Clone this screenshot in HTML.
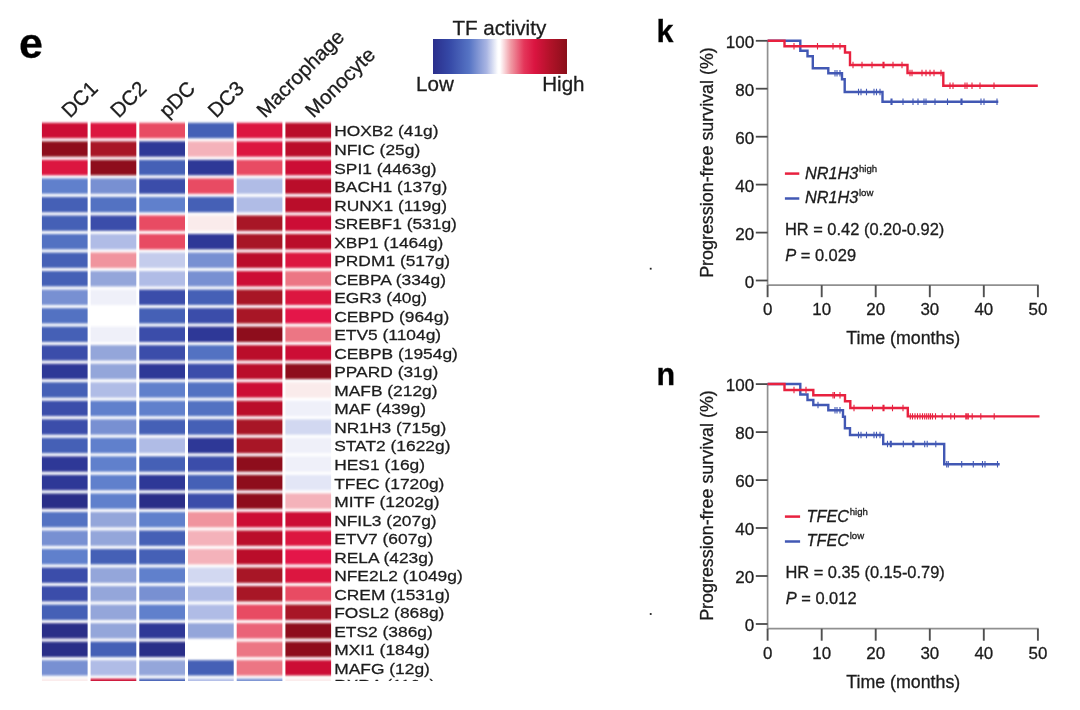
<!DOCTYPE html>
<html lang="en"><head><meta charset="utf-8"><title>Figure panels e, k, n</title>
<style>
html,body{margin:0;padding:0;background:#fff;}
body{width:1080px;height:710px;overflow:hidden;font-family:"Liberation Sans",Arial,Helvetica,sans-serif;}
svg{display:block;filter:blur(0.55px);}
text{font-family:"Liberation Sans",Arial,Helvetica,sans-serif;fill:#1c1c1c;stroke:#1c1c1c;stroke-width:0.3px;}
.b{font-weight:bold;fill:#000;}
.i{font-style:italic;}
</style></head><body>
<svg width="1080" height="710" viewBox="0 0 1080 710">
<defs>
<linearGradient id="lg" x1="0" y1="0" x2="1" y2="0">
<stop offset="0" stop-color="#2B2F8C"/><stop offset="0.12" stop-color="#3548A6"/><stop offset="0.27" stop-color="#5674C4"/>
<stop offset="0.40" stop-color="#A9B5E3"/><stop offset="0.485" stop-color="#FFFFFF"/><stop offset="0.50" stop-color="#FFFFFF"/>
<stop offset="0.58" stop-color="#F09AA4"/><stop offset="0.68" stop-color="#E4365A"/><stop offset="0.76" stop-color="#DA1440"/>
<stop offset="0.88" stop-color="#B01228"/><stop offset="1" stop-color="#8A0F1A"/>
</linearGradient>
<filter id="hb" x="-5%" y="-5%" width="110%" height="110%"><feGaussianBlur stdDeviation="0.35 0.85"/></filter>
<clipPath id="hc"><rect x="0" y="0" width="640" height="681"/></clipPath>
</defs>
<rect width="1080" height="710" fill="#fff"/>

<text class="b" x="19.1" y="58.0" font-size="43">e</text>
<text x="499.3" y="35.2" font-size="20.6" text-anchor="middle">TF activity</text>
<rect x="433" y="39" width="134" height="35" fill="url(#lg)"/>
<text x="416.0" y="90.6" font-size="20.6">Low</text>
<text x="542.2" y="90.6" font-size="20.6">High</text>
<text transform="translate(70.0,118.7) rotate(-45)" font-size="20.5">DC1</text>
<text transform="translate(118.7,118.7) rotate(-45)" font-size="20.5">DC2</text>
<text transform="translate(167.5,118.7) rotate(-45)" font-size="20.5">pDC</text>
<text transform="translate(216.2,118.7) rotate(-45)" font-size="20.5">DC3</text>
<text transform="translate(264.9,118.7) rotate(-45)" font-size="20.5">Macrophage</text>
<text transform="translate(313.6,118.7) rotate(-45)" font-size="20.5">Monocyte</text>
<g clip-path="url(#hc)"><g filter="url(#hb)">
<rect x="41.90" y="122.80" width="45.7" height="15.4" fill="#CC1034"/>
<rect x="90.60" y="122.80" width="45.7" height="15.4" fill="#DC1440"/>
<rect x="139.30" y="122.80" width="45.7" height="15.4" fill="#E84C64"/>
<rect x="188.00" y="122.80" width="45.7" height="15.4" fill="#4560B6"/>
<rect x="236.70" y="122.80" width="45.7" height="15.4" fill="#DC1440"/>
<rect x="285.40" y="122.80" width="45.7" height="15.4" fill="#BA102B"/>
<rect x="41.90" y="141.33" width="45.7" height="15.4" fill="#8E0F1C"/>
<rect x="90.60" y="141.33" width="45.7" height="15.4" fill="#A81226"/>
<rect x="139.30" y="141.33" width="45.7" height="15.4" fill="#2E3797"/>
<rect x="188.00" y="141.33" width="45.7" height="15.4" fill="#F4B2BA"/>
<rect x="236.70" y="141.33" width="45.7" height="15.4" fill="#DC1440"/>
<rect x="285.40" y="141.33" width="45.7" height="15.4" fill="#BA102B"/>
<rect x="41.90" y="159.86" width="45.7" height="15.4" fill="#DC1440"/>
<rect x="90.60" y="159.86" width="45.7" height="15.4" fill="#8E0F1C"/>
<rect x="139.30" y="159.86" width="45.7" height="15.4" fill="#4560B6"/>
<rect x="188.00" y="159.86" width="45.7" height="15.4" fill="#2E3797"/>
<rect x="236.70" y="159.86" width="45.7" height="15.4" fill="#E84C64"/>
<rect x="285.40" y="159.86" width="45.7" height="15.4" fill="#CC1034"/>
<rect x="41.90" y="178.39" width="45.7" height="15.4" fill="#6080CC"/>
<rect x="90.60" y="178.39" width="45.7" height="15.4" fill="#7890D2"/>
<rect x="139.30" y="178.39" width="45.7" height="15.4" fill="#3A4EAA"/>
<rect x="188.00" y="178.39" width="45.7" height="15.4" fill="#E84C64"/>
<rect x="236.70" y="178.39" width="45.7" height="15.4" fill="#B0BCE6"/>
<rect x="285.40" y="178.39" width="45.7" height="15.4" fill="#BA102B"/>
<rect x="41.90" y="196.92" width="45.7" height="15.4" fill="#4560B6"/>
<rect x="90.60" y="196.92" width="45.7" height="15.4" fill="#5272C2"/>
<rect x="139.30" y="196.92" width="45.7" height="15.4" fill="#6080CC"/>
<rect x="188.00" y="196.92" width="45.7" height="15.4" fill="#4560B6"/>
<rect x="236.70" y="196.92" width="45.7" height="15.4" fill="#B0BCE6"/>
<rect x="285.40" y="196.92" width="45.7" height="15.4" fill="#BA102B"/>
<rect x="41.90" y="215.45" width="45.7" height="15.4" fill="#4560B6"/>
<rect x="90.60" y="215.45" width="45.7" height="15.4" fill="#3A4EAA"/>
<rect x="139.30" y="215.45" width="45.7" height="15.4" fill="#E84C64"/>
<rect x="188.00" y="215.45" width="45.7" height="15.4" fill="#FAEBEB"/>
<rect x="236.70" y="215.45" width="45.7" height="15.4" fill="#A81226"/>
<rect x="285.40" y="215.45" width="45.7" height="15.4" fill="#CC1034"/>
<rect x="41.90" y="233.98" width="45.7" height="15.4" fill="#5272C2"/>
<rect x="90.60" y="233.98" width="45.7" height="15.4" fill="#B0BCE6"/>
<rect x="139.30" y="233.98" width="45.7" height="15.4" fill="#E84C64"/>
<rect x="188.00" y="233.98" width="45.7" height="15.4" fill="#2E3797"/>
<rect x="236.70" y="233.98" width="45.7" height="15.4" fill="#A81226"/>
<rect x="285.40" y="233.98" width="45.7" height="15.4" fill="#BA102B"/>
<rect x="41.90" y="252.51" width="45.7" height="15.4" fill="#4560B6"/>
<rect x="90.60" y="252.51" width="45.7" height="15.4" fill="#F0949E"/>
<rect x="139.30" y="252.51" width="45.7" height="15.4" fill="#C4CCEC"/>
<rect x="188.00" y="252.51" width="45.7" height="15.4" fill="#7890D2"/>
<rect x="236.70" y="252.51" width="45.7" height="15.4" fill="#BA102B"/>
<rect x="285.40" y="252.51" width="45.7" height="15.4" fill="#DC1440"/>
<rect x="41.90" y="271.04" width="45.7" height="15.4" fill="#4560B6"/>
<rect x="90.60" y="271.04" width="45.7" height="15.4" fill="#94A6DA"/>
<rect x="139.30" y="271.04" width="45.7" height="15.4" fill="#B0BCE6"/>
<rect x="188.00" y="271.04" width="45.7" height="15.4" fill="#7890D2"/>
<rect x="236.70" y="271.04" width="45.7" height="15.4" fill="#CC1034"/>
<rect x="285.40" y="271.04" width="45.7" height="15.4" fill="#EC7684"/>
<rect x="41.90" y="289.57" width="45.7" height="15.4" fill="#7890D2"/>
<rect x="90.60" y="289.57" width="45.7" height="15.4" fill="#EFF0F9"/>
<rect x="139.30" y="289.57" width="45.7" height="15.4" fill="#3A4EAA"/>
<rect x="188.00" y="289.57" width="45.7" height="15.4" fill="#4560B6"/>
<rect x="236.70" y="289.57" width="45.7" height="15.4" fill="#A81226"/>
<rect x="285.40" y="289.57" width="45.7" height="15.4" fill="#DC1440"/>
<rect x="41.90" y="308.10" width="45.7" height="15.4" fill="#5272C2"/>
<rect x="90.60" y="308.10" width="45.7" height="15.4" fill="#FFFFFF"/>
<rect x="139.30" y="308.10" width="45.7" height="15.4" fill="#4560B6"/>
<rect x="188.00" y="308.10" width="45.7" height="15.4" fill="#3A4EAA"/>
<rect x="236.70" y="308.10" width="45.7" height="15.4" fill="#A81226"/>
<rect x="285.40" y="308.10" width="45.7" height="15.4" fill="#E41848"/>
<rect x="41.90" y="326.63" width="45.7" height="15.4" fill="#4560B6"/>
<rect x="90.60" y="326.63" width="45.7" height="15.4" fill="#EFF0F9"/>
<rect x="139.30" y="326.63" width="45.7" height="15.4" fill="#3A4EAA"/>
<rect x="188.00" y="326.63" width="45.7" height="15.4" fill="#2E3797"/>
<rect x="236.70" y="326.63" width="45.7" height="15.4" fill="#8E0F1C"/>
<rect x="285.40" y="326.63" width="45.7" height="15.4" fill="#EC7684"/>
<rect x="41.90" y="345.16" width="45.7" height="15.4" fill="#3A4EAA"/>
<rect x="90.60" y="345.16" width="45.7" height="15.4" fill="#94A6DA"/>
<rect x="139.30" y="345.16" width="45.7" height="15.4" fill="#3A4EAA"/>
<rect x="188.00" y="345.16" width="45.7" height="15.4" fill="#5272C2"/>
<rect x="236.70" y="345.16" width="45.7" height="15.4" fill="#BA102B"/>
<rect x="285.40" y="345.16" width="45.7" height="15.4" fill="#CC1034"/>
<rect x="41.90" y="363.69" width="45.7" height="15.4" fill="#2E3797"/>
<rect x="90.60" y="363.69" width="45.7" height="15.4" fill="#94A6DA"/>
<rect x="139.30" y="363.69" width="45.7" height="15.4" fill="#2E3797"/>
<rect x="188.00" y="363.69" width="45.7" height="15.4" fill="#3A4EAA"/>
<rect x="236.70" y="363.69" width="45.7" height="15.4" fill="#BA102B"/>
<rect x="285.40" y="363.69" width="45.7" height="15.4" fill="#8E0F1C"/>
<rect x="41.90" y="382.22" width="45.7" height="15.4" fill="#4560B6"/>
<rect x="90.60" y="382.22" width="45.7" height="15.4" fill="#B0BCE6"/>
<rect x="139.30" y="382.22" width="45.7" height="15.4" fill="#6080CC"/>
<rect x="188.00" y="382.22" width="45.7" height="15.4" fill="#5272C2"/>
<rect x="236.70" y="382.22" width="45.7" height="15.4" fill="#CC1034"/>
<rect x="285.40" y="382.22" width="45.7" height="15.4" fill="#FAEBEB"/>
<rect x="41.90" y="400.75" width="45.7" height="15.4" fill="#3A4EAA"/>
<rect x="90.60" y="400.75" width="45.7" height="15.4" fill="#6080CC"/>
<rect x="139.30" y="400.75" width="45.7" height="15.4" fill="#6080CC"/>
<rect x="188.00" y="400.75" width="45.7" height="15.4" fill="#5272C2"/>
<rect x="236.70" y="400.75" width="45.7" height="15.4" fill="#BA102B"/>
<rect x="285.40" y="400.75" width="45.7" height="15.4" fill="#EFF0F9"/>
<rect x="41.90" y="419.28" width="45.7" height="15.4" fill="#3A4EAA"/>
<rect x="90.60" y="419.28" width="45.7" height="15.4" fill="#7890D2"/>
<rect x="139.30" y="419.28" width="45.7" height="15.4" fill="#4560B6"/>
<rect x="188.00" y="419.28" width="45.7" height="15.4" fill="#4560B6"/>
<rect x="236.70" y="419.28" width="45.7" height="15.4" fill="#A81226"/>
<rect x="285.40" y="419.28" width="45.7" height="15.4" fill="#D2D8F1"/>
<rect x="41.90" y="437.81" width="45.7" height="15.4" fill="#4560B6"/>
<rect x="90.60" y="437.81" width="45.7" height="15.4" fill="#6080CC"/>
<rect x="139.30" y="437.81" width="45.7" height="15.4" fill="#B0BCE6"/>
<rect x="188.00" y="437.81" width="45.7" height="15.4" fill="#2E3797"/>
<rect x="236.70" y="437.81" width="45.7" height="15.4" fill="#A81226"/>
<rect x="285.40" y="437.81" width="45.7" height="15.4" fill="#EFF0F9"/>
<rect x="41.90" y="456.34" width="45.7" height="15.4" fill="#2E3797"/>
<rect x="90.60" y="456.34" width="45.7" height="15.4" fill="#6080CC"/>
<rect x="139.30" y="456.34" width="45.7" height="15.4" fill="#4560B6"/>
<rect x="188.00" y="456.34" width="45.7" height="15.4" fill="#3A4EAA"/>
<rect x="236.70" y="456.34" width="45.7" height="15.4" fill="#8E0F1C"/>
<rect x="285.40" y="456.34" width="45.7" height="15.4" fill="#EFF0F9"/>
<rect x="41.90" y="474.87" width="45.7" height="15.4" fill="#2E3797"/>
<rect x="90.60" y="474.87" width="45.7" height="15.4" fill="#6080CC"/>
<rect x="139.30" y="474.87" width="45.7" height="15.4" fill="#2E3797"/>
<rect x="188.00" y="474.87" width="45.7" height="15.4" fill="#4560B6"/>
<rect x="236.70" y="474.87" width="45.7" height="15.4" fill="#8E0F1C"/>
<rect x="285.40" y="474.87" width="45.7" height="15.4" fill="#E3E6F6"/>
<rect x="41.90" y="493.40" width="45.7" height="15.4" fill="#2A2D88"/>
<rect x="90.60" y="493.40" width="45.7" height="15.4" fill="#6080CC"/>
<rect x="139.30" y="493.40" width="45.7" height="15.4" fill="#2A2D88"/>
<rect x="188.00" y="493.40" width="45.7" height="15.4" fill="#3A4EAA"/>
<rect x="236.70" y="493.40" width="45.7" height="15.4" fill="#8E0F1C"/>
<rect x="285.40" y="493.40" width="45.7" height="15.4" fill="#F4B2BA"/>
<rect x="41.90" y="511.93" width="45.7" height="15.4" fill="#5272C2"/>
<rect x="90.60" y="511.93" width="45.7" height="15.4" fill="#94A6DA"/>
<rect x="139.30" y="511.93" width="45.7" height="15.4" fill="#6080CC"/>
<rect x="188.00" y="511.93" width="45.7" height="15.4" fill="#F0949E"/>
<rect x="236.70" y="511.93" width="45.7" height="15.4" fill="#CC1034"/>
<rect x="285.40" y="511.93" width="45.7" height="15.4" fill="#CC1034"/>
<rect x="41.90" y="530.46" width="45.7" height="15.4" fill="#7890D2"/>
<rect x="90.60" y="530.46" width="45.7" height="15.4" fill="#94A6DA"/>
<rect x="139.30" y="530.46" width="45.7" height="15.4" fill="#4560B6"/>
<rect x="188.00" y="530.46" width="45.7" height="15.4" fill="#F4B2BA"/>
<rect x="236.70" y="530.46" width="45.7" height="15.4" fill="#BA102B"/>
<rect x="285.40" y="530.46" width="45.7" height="15.4" fill="#DC1440"/>
<rect x="41.90" y="548.99" width="45.7" height="15.4" fill="#6080CC"/>
<rect x="90.60" y="548.99" width="45.7" height="15.4" fill="#4560B6"/>
<rect x="139.30" y="548.99" width="45.7" height="15.4" fill="#4560B6"/>
<rect x="188.00" y="548.99" width="45.7" height="15.4" fill="#F4B2BA"/>
<rect x="236.70" y="548.99" width="45.7" height="15.4" fill="#BA102B"/>
<rect x="285.40" y="548.99" width="45.7" height="15.4" fill="#E41848"/>
<rect x="41.90" y="567.52" width="45.7" height="15.4" fill="#3A4EAA"/>
<rect x="90.60" y="567.52" width="45.7" height="15.4" fill="#94A6DA"/>
<rect x="139.30" y="567.52" width="45.7" height="15.4" fill="#6080CC"/>
<rect x="188.00" y="567.52" width="45.7" height="15.4" fill="#D2D8F1"/>
<rect x="236.70" y="567.52" width="45.7" height="15.4" fill="#A81226"/>
<rect x="285.40" y="567.52" width="45.7" height="15.4" fill="#DC1440"/>
<rect x="41.90" y="586.05" width="45.7" height="15.4" fill="#3A4EAA"/>
<rect x="90.60" y="586.05" width="45.7" height="15.4" fill="#94A6DA"/>
<rect x="139.30" y="586.05" width="45.7" height="15.4" fill="#7890D2"/>
<rect x="188.00" y="586.05" width="45.7" height="15.4" fill="#B0BCE6"/>
<rect x="236.70" y="586.05" width="45.7" height="15.4" fill="#A81226"/>
<rect x="285.40" y="586.05" width="45.7" height="15.4" fill="#E84C64"/>
<rect x="41.90" y="604.58" width="45.7" height="15.4" fill="#4560B6"/>
<rect x="90.60" y="604.58" width="45.7" height="15.4" fill="#94A6DA"/>
<rect x="139.30" y="604.58" width="45.7" height="15.4" fill="#6080CC"/>
<rect x="188.00" y="604.58" width="45.7" height="15.4" fill="#B0BCE6"/>
<rect x="236.70" y="604.58" width="45.7" height="15.4" fill="#E84C64"/>
<rect x="285.40" y="604.58" width="45.7" height="15.4" fill="#A81226"/>
<rect x="41.90" y="623.11" width="45.7" height="15.4" fill="#2A2D88"/>
<rect x="90.60" y="623.11" width="45.7" height="15.4" fill="#94A6DA"/>
<rect x="139.30" y="623.11" width="45.7" height="15.4" fill="#2E3797"/>
<rect x="188.00" y="623.11" width="45.7" height="15.4" fill="#94A6DA"/>
<rect x="236.70" y="623.11" width="45.7" height="15.4" fill="#EA6478"/>
<rect x="285.40" y="623.11" width="45.7" height="15.4" fill="#8E0F1C"/>
<rect x="41.90" y="641.64" width="45.7" height="15.4" fill="#2A2D88"/>
<rect x="90.60" y="641.64" width="45.7" height="15.4" fill="#4560B6"/>
<rect x="139.30" y="641.64" width="45.7" height="15.4" fill="#2A2D88"/>
<rect x="188.00" y="641.64" width="45.7" height="15.4" fill="#FFFFFF"/>
<rect x="236.70" y="641.64" width="45.7" height="15.4" fill="#EC7684"/>
<rect x="285.40" y="641.64" width="45.7" height="15.4" fill="#8E0F1C"/>
<rect x="41.90" y="660.17" width="45.7" height="15.4" fill="#7890D2"/>
<rect x="90.60" y="660.17" width="45.7" height="15.4" fill="#B0BCE6"/>
<rect x="139.30" y="660.17" width="45.7" height="15.4" fill="#94A6DA"/>
<rect x="188.00" y="660.17" width="45.7" height="15.4" fill="#4560B6"/>
<rect x="236.70" y="660.17" width="45.7" height="15.4" fill="#EC7684"/>
<rect x="285.40" y="660.17" width="45.7" height="15.4" fill="#CC1034"/>
<rect x="41.90" y="678.70" width="45.7" height="15.4" fill="#FAEBEB"/>
<rect x="90.60" y="678.70" width="45.7" height="15.4" fill="#CC1034"/>
<rect x="139.30" y="678.70" width="45.7" height="15.4" fill="#4560B6"/>
<rect x="188.00" y="678.70" width="45.7" height="15.4" fill="#B0BCE6"/>
<rect x="236.70" y="678.70" width="45.7" height="15.4" fill="#7890D2"/>
<rect x="285.40" y="678.70" width="45.7" height="15.4" fill="#FAEBEB"/>
</g>
<text transform="translate(334.2,136.48) scale(1,0.88)" font-size="17.4">HOXB2 (41g)</text>
<text transform="translate(334.2,155.01) scale(1,0.88)" font-size="17.4">NFIC (25g)</text>
<text transform="translate(334.2,173.54) scale(1,0.88)" font-size="17.4">SPI1 (4463g)</text>
<text transform="translate(334.2,192.07) scale(1,0.88)" font-size="17.4">BACH1 (137g)</text>
<text transform="translate(334.2,210.60) scale(1,0.88)" font-size="17.4">RUNX1 (119g)</text>
<text transform="translate(334.2,229.13) scale(1,0.88)" font-size="17.4">SREBF1 (531g)</text>
<text transform="translate(334.2,247.66) scale(1,0.88)" font-size="17.4">XBP1 (1464g)</text>
<text transform="translate(334.2,266.19) scale(1,0.88)" font-size="17.4">PRDM1 (517g)</text>
<text transform="translate(334.2,284.72) scale(1,0.88)" font-size="17.4">CEBPA (334g)</text>
<text transform="translate(334.2,303.25) scale(1,0.88)" font-size="17.4">EGR3 (40g)</text>
<text transform="translate(334.2,321.78) scale(1,0.88)" font-size="17.4">CEBPD (964g)</text>
<text transform="translate(334.2,340.31) scale(1,0.88)" font-size="17.4">ETV5 (1104g)</text>
<text transform="translate(334.2,358.84) scale(1,0.88)" font-size="17.4">CEBPB (1954g)</text>
<text transform="translate(334.2,377.37) scale(1,0.88)" font-size="17.4">PPARD (31g)</text>
<text transform="translate(334.2,395.90) scale(1,0.88)" font-size="17.4">MAFB (212g)</text>
<text transform="translate(334.2,414.43) scale(1,0.88)" font-size="17.4">MAF (439g)</text>
<text transform="translate(334.2,432.96) scale(1,0.88)" font-size="17.4">NR1H3 (715g)</text>
<text transform="translate(334.2,451.49) scale(1,0.88)" font-size="17.4">STAT2 (1622g)</text>
<text transform="translate(334.2,470.02) scale(1,0.88)" font-size="17.4">HES1 (16g)</text>
<text transform="translate(334.2,488.55) scale(1,0.88)" font-size="17.4">TFEC (1720g)</text>
<text transform="translate(334.2,507.08) scale(1,0.88)" font-size="17.4">MITF (1202g)</text>
<text transform="translate(334.2,525.61) scale(1,0.88)" font-size="17.4">NFIL3 (207g)</text>
<text transform="translate(334.2,544.14) scale(1,0.88)" font-size="17.4">ETV7 (607g)</text>
<text transform="translate(334.2,562.67) scale(1,0.88)" font-size="17.4">RELA (423g)</text>
<text transform="translate(334.2,581.20) scale(1,0.88)" font-size="17.4">NFE2L2 (1049g)</text>
<text transform="translate(334.2,599.73) scale(1,0.88)" font-size="17.4">CREM (1531g)</text>
<text transform="translate(334.2,618.26) scale(1,0.88)" font-size="17.4">FOSL2 (868g)</text>
<text transform="translate(334.2,636.79) scale(1,0.88)" font-size="17.4">ETS2 (386g)</text>
<text transform="translate(334.2,655.32) scale(1,0.88)" font-size="17.4">MXI1 (184g)</text>
<text transform="translate(334.2,673.85) scale(1,0.88)" font-size="17.4">MAFG (12g)</text>
<text transform="translate(334.2,690.48) scale(1,0.88)" font-size="17.4">RXRA (116g)</text>
</g>
<text class="b" x="656.5" y="41.6" font-size="30.5">k</text>
<path d="M767.6 40.0V285.2H1038.6" fill="none" stroke="#909090" stroke-width="1.7"/>
<path d="M767.6 285.2v12" stroke="#505050" stroke-width="1.9" fill="none"/>
<text x="767.6" y="315.2" font-size="16.9" text-anchor="middle">0</text>
<path d="M821.7 285.2v12" stroke="#505050" stroke-width="1.9" fill="none"/>
<text x="821.7" y="315.2" font-size="16.9" text-anchor="middle">10</text>
<path d="M875.7 285.2v12" stroke="#505050" stroke-width="1.9" fill="none"/>
<text x="875.7" y="315.2" font-size="16.9" text-anchor="middle">20</text>
<path d="M929.8 285.2v12" stroke="#505050" stroke-width="1.9" fill="none"/>
<text x="929.8" y="315.2" font-size="16.9" text-anchor="middle">30</text>
<path d="M983.8 285.2v12" stroke="#505050" stroke-width="1.9" fill="none"/>
<text x="983.8" y="315.2" font-size="16.9" text-anchor="middle">40</text>
<path d="M1037.9 285.2v12" stroke="#505050" stroke-width="1.9" fill="none"/>
<text x="1037.9" y="315.2" font-size="16.9" text-anchor="middle">50</text>
<path d="M755.8 280.5H767.6" stroke="#4a4a4a" stroke-width="1.8" fill="none"/>
<text x="754.2" y="287.8" font-size="17" text-anchor="end">0</text>
<path d="M755.8 232.6H767.6" stroke="#4a4a4a" stroke-width="1.8" fill="none"/>
<text x="754.2" y="239.9" font-size="17" text-anchor="end">20</text>
<path d="M755.8 184.6H767.6" stroke="#4a4a4a" stroke-width="1.8" fill="none"/>
<text x="754.2" y="191.9" font-size="17" text-anchor="end">40</text>
<path d="M755.8 136.7H767.6" stroke="#4a4a4a" stroke-width="1.8" fill="none"/>
<text x="754.2" y="144.0" font-size="17" text-anchor="end">60</text>
<path d="M755.8 88.7H767.6" stroke="#4a4a4a" stroke-width="1.8" fill="none"/>
<text x="754.2" y="96.0" font-size="17" text-anchor="end">80</text>
<path d="M755.8 40.8H767.6" stroke="#4a4a4a" stroke-width="1.8" fill="none"/>
<text x="754.2" y="48.1" font-size="17" text-anchor="end">100</text>
<text x="903.3" y="344.4" font-size="17.8" text-anchor="middle">Time (months)</text>
<text transform="translate(713.4,162.5) rotate(-90)" font-size="17.9" text-anchor="middle">Progression-free survival (%)</text>
<path d="M767.6 40.8L800.3 40.8L800.3 50.8L807.5 50.8L807.5 56.3L812.8 56.3L812.8 68.3L828.3 68.3L828.3 73.3L842.0 73.3L842.0 79.2L844.7 79.2L844.7 92.0L882.5 92.0L882.5 101.7L998.3 101.7" fill="none" stroke="#4258B4" stroke-width="2.4" stroke-linejoin="miter"/>
<path d="M835.0 70.1v6.4M837.0 70.1v6.4M840.0 70.1v6.4M858.5 88.8v6.4M861.0 88.8v6.4M866.5 88.8v6.4M874.0 88.8v6.4M876.5 88.8v6.4M880.0 88.8v6.4M891.0 98.5v6.4M892.0 98.5v6.4M903.0 98.5v6.4M913.0 98.5v6.4M918.0 98.5v6.4M924.0 98.5v6.4M926.0 98.5v6.4M935.0 98.5v6.4M947.5 98.5v6.4M961.0 98.5v6.4M962.0 98.5v6.4M981.0 98.5v6.4M984.0 98.5v6.4M997.0 98.5v6.4" fill="none" stroke="#4258B4" stroke-width="1.1"/>
<path d="M767.6 40.8L784.5 40.8L784.5 46.3L845.0 46.3L845.0 52.5L850.0 52.5L850.0 65.0L907.5 65.0L907.5 73.0L943.3 73.0L943.3 85.8L1037.8 85.8" fill="none" stroke="#E8213F" stroke-width="2.4" stroke-linejoin="miter"/>
<path d="M794.0 43.1v6.4M817.5 43.1v6.4M833.0 43.1v6.4M840.0 43.1v6.4M853.0 61.8v6.4M862.0 61.8v6.4M872.0 61.8v6.4M883.0 61.8v6.4M884.0 61.8v6.4M893.0 61.8v6.4M902.0 61.8v6.4M910.0 69.8v6.4M912.0 69.8v6.4M922.0 69.8v6.4M926.0 69.8v6.4M930.0 69.8v6.4M934.0 69.8v6.4M941.0 69.8v6.4M950.0 82.6v6.4M953.0 82.6v6.4M965.0 82.6v6.4M967.0 82.6v6.4M972.0 82.6v6.4M980.0 82.6v6.4M994.0 82.6v6.4" fill="none" stroke="#E8213F" stroke-width="1.1"/>
<path d="M784.9 173.6h14.4" stroke="#E8213F" stroke-width="2.5" fill="none"/>
<path d="M784.9 198.5h14.4" stroke="#4258B4" stroke-width="2.5" fill="none"/>
<text x="805.0" y="178.5" font-size="16.3"><tspan class="i">NR1H3</tspan><tspan font-size="9.6" dy="-6.9" dx="0.6">high</tspan></text>
<text x="805.0" y="202.6" font-size="16.3"><tspan class="i">NR1H3</tspan><tspan font-size="9.6" dy="-6.9" dx="0.6">low</tspan></text>
<text x="784.9" y="235.3" font-size="16.45">HR = 0.42 (0.20-0.92)</text>
<text x="785.2" y="260.6" font-size="16.45"><tspan class="i">P</tspan> = 0.029</text>
<rect x="649.8" y="267.8" width="1.8" height="1.8" fill="#222"/>
<text class="b" x="656.5" y="385.0" font-size="30.5">n</text>
<path d="M767.6 383.3V628.7H1038.6" fill="none" stroke="#909090" stroke-width="1.7"/>
<path d="M767.6 628.7v12" stroke="#505050" stroke-width="1.9" fill="none"/>
<text x="767.6" y="658.7" font-size="16.9" text-anchor="middle">0</text>
<path d="M821.7 628.7v12" stroke="#505050" stroke-width="1.9" fill="none"/>
<text x="821.7" y="658.7" font-size="16.9" text-anchor="middle">10</text>
<path d="M875.7 628.7v12" stroke="#505050" stroke-width="1.9" fill="none"/>
<text x="875.7" y="658.7" font-size="16.9" text-anchor="middle">20</text>
<path d="M929.8 628.7v12" stroke="#505050" stroke-width="1.9" fill="none"/>
<text x="929.8" y="658.7" font-size="16.9" text-anchor="middle">30</text>
<path d="M983.8 628.7v12" stroke="#505050" stroke-width="1.9" fill="none"/>
<text x="983.8" y="658.7" font-size="16.9" text-anchor="middle">40</text>
<path d="M1037.9 628.7v12" stroke="#505050" stroke-width="1.9" fill="none"/>
<text x="1037.9" y="658.7" font-size="16.9" text-anchor="middle">50</text>
<path d="M755.8 624.0H767.6" stroke="#4a4a4a" stroke-width="1.8" fill="none"/>
<text x="754.2" y="631.3" font-size="17" text-anchor="end">0</text>
<path d="M755.8 576.0H767.6" stroke="#4a4a4a" stroke-width="1.8" fill="none"/>
<text x="754.2" y="583.3" font-size="17" text-anchor="end">20</text>
<path d="M755.8 528.0H767.6" stroke="#4a4a4a" stroke-width="1.8" fill="none"/>
<text x="754.2" y="535.3" font-size="17" text-anchor="end">40</text>
<path d="M755.8 480.1H767.6" stroke="#4a4a4a" stroke-width="1.8" fill="none"/>
<text x="754.2" y="487.4" font-size="17" text-anchor="end">60</text>
<path d="M755.8 432.1H767.6" stroke="#4a4a4a" stroke-width="1.8" fill="none"/>
<text x="754.2" y="439.4" font-size="17" text-anchor="end">80</text>
<path d="M755.8 384.1H767.6" stroke="#4a4a4a" stroke-width="1.8" fill="none"/>
<text x="754.2" y="391.4" font-size="17" text-anchor="end">100</text>
<text x="903.3" y="687.9" font-size="17.8" text-anchor="middle">Time (months)</text>
<text transform="translate(713.4,505.5) rotate(-90)" font-size="17.9" text-anchor="middle">Progression-free survival (%)</text>
<path d="M767.6 384.0L800.3 384.0L800.3 394.5L807.5 394.5L807.5 400.0L813.3 400.0L813.3 405.0L828.3 405.0L828.3 410.3L843.0 410.3L843.0 416.7L844.9 416.7L844.9 428.3L850.0 428.3L850.0 435.0L883.2 435.0L883.2 444.0L944.2 444.0L944.2 464.2L999.7 464.2" fill="none" stroke="#4258B4" stroke-width="2.4" stroke-linejoin="miter"/>
<path d="M818.0 401.8v6.4M835.0 407.1v6.4M837.0 407.1v6.4M840.0 407.1v6.4M858.5 431.8v6.4M861.0 431.8v6.4M866.5 431.8v6.4M874.0 431.8v6.4M876.5 431.8v6.4M880.0 431.8v6.4M887.5 440.8v6.4M890.3 440.8v6.4M891.3 440.8v6.4M903.3 440.8v6.4M912.8 440.8v6.4M913.8 440.8v6.4M924.7 440.8v6.4M927.2 440.8v6.4M935.8 440.8v6.4M946.7 461.0v6.4M948.3 461.0v6.4M961.7 461.0v6.4M973.3 461.0v6.4M982.5 461.0v6.4M985.0 461.0v6.4M997.5 461.0v6.4" fill="none" stroke="#4258B4" stroke-width="1.1"/>
<path d="M767.6 384.0L784.5 384.0L784.5 390.0L813.3 390.0L813.3 395.3L845.0 395.3L845.0 401.2L850.3 401.2L850.3 408.0L907.8 408.0L907.8 416.4L1039.5 416.4" fill="none" stroke="#E8213F" stroke-width="2.4" stroke-linejoin="miter"/>
<path d="M794.0 386.8v6.4M806.0 386.8v6.4M833.0 392.1v6.4M834.5 392.1v6.4M840.0 392.1v6.4M854.0 404.8v6.4M872.5 404.8v6.4M883.0 404.8v6.4M884.0 404.8v6.4M892.5 404.8v6.4M903.0 404.8v6.4M910.3 413.2v6.4M912.5 413.2v6.4M915.0 413.2v6.4M917.5 413.2v6.4M920.0 413.2v6.4M922.5 413.2v6.4M924.7 413.2v6.4M926.7 413.2v6.4M928.7 413.2v6.4M930.5 413.2v6.4M932.5 413.2v6.4M935.5 413.2v6.4M942.2 413.2v6.4M950.8 413.2v6.4M954.5 413.2v6.4M965.8 413.2v6.4M967.0 413.2v6.4M968.3 413.2v6.4M972.2 413.2v6.4M980.8 413.2v6.4M994.2 413.2v6.4" fill="none" stroke="#E8213F" stroke-width="1.1"/>
<path d="M784.9 516.6h15.2" stroke="#E8213F" stroke-width="2.5" fill="none"/>
<path d="M784.9 541.5h15.2" stroke="#4258B4" stroke-width="2.5" fill="none"/>
<text x="806.6" y="521.5" font-size="16.3"><tspan class="i">TFEC</tspan><tspan font-size="9.6" dy="-6.9" dx="0.6">high</tspan></text>
<text x="806.6" y="545.6" font-size="16.3"><tspan class="i">TFEC</tspan><tspan font-size="9.6" dy="-6.9" dx="0.6">low</tspan></text>
<text x="785.4" y="578.3" font-size="16.45">HR = 0.35 (0.15-0.79)</text>
<text x="785.7" y="603.6" font-size="16.45"><tspan class="i">P</tspan> = 0.012</text>
<rect x="649.8" y="613.1" width="1.8" height="1.8" fill="#222"/>
</svg>
</body></html>
